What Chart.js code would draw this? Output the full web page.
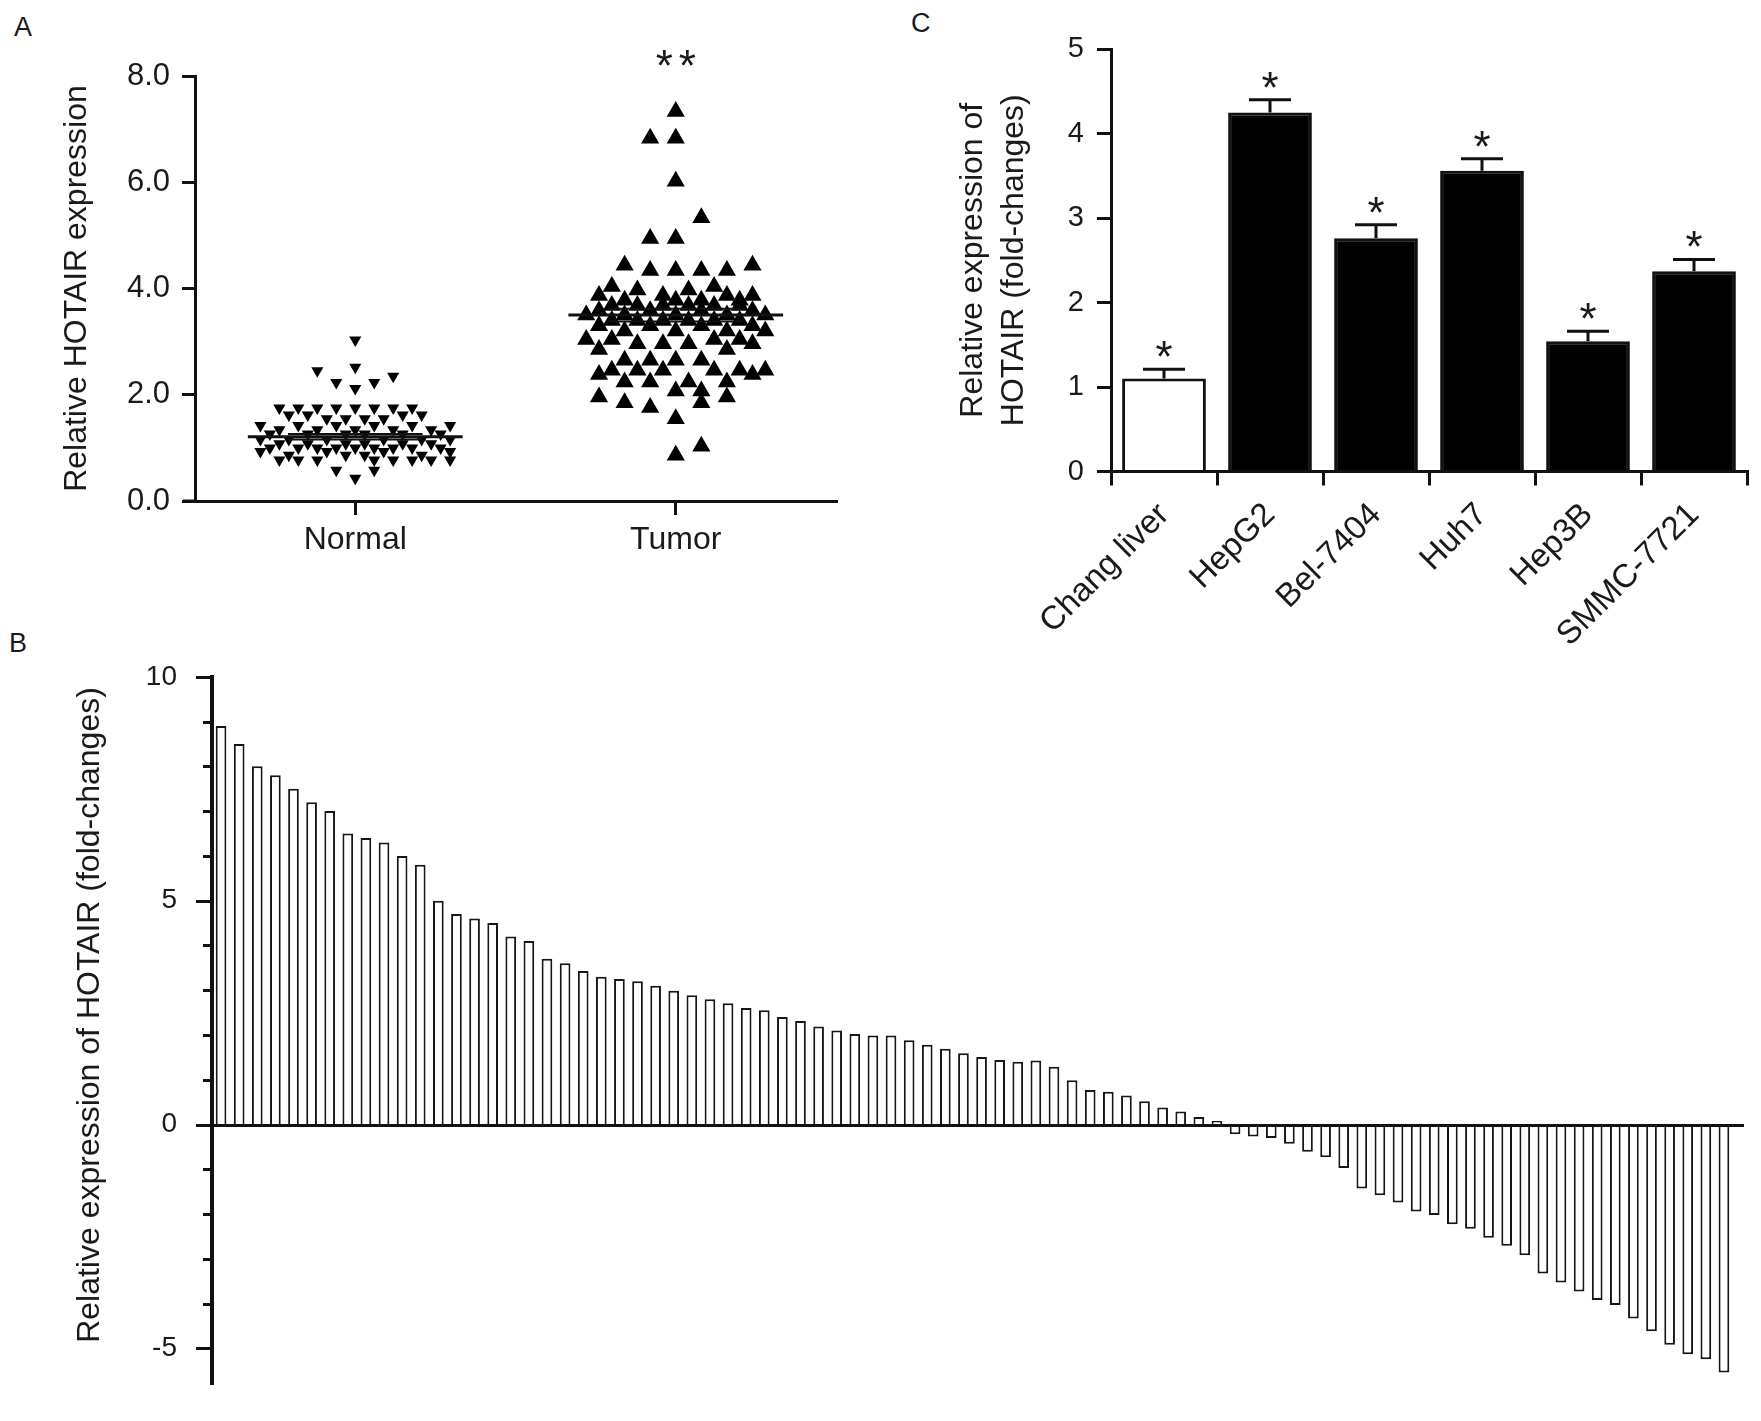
<!DOCTYPE html>
<html>
<head>
<meta charset="utf-8">
<script src="https://cdn.jsdelivr.net/npm/chart.js@4.4.1/dist/chart.umd.min.js"></script>
<style>
  body { margin: 0; background: #fff; }
  #wrap { position: relative; width: 1761px; height: 1421px; font-family: "Liberation Sans", Arial, sans-serif; color: #1a1a1a; }
  .panel { position: absolute; }
  .letter { position: absolute; font-size: 27px; line-height: 1; }
</style>
</head>
<body>
<div id="wrap">
  <div class="letter" style="left:14px;top:14px">A</div>
  <div class="letter" style="left:9px;top:630px">B</div>
  <div class="letter" style="left:911px;top:10px">C</div>
  <div class="panel" style="left:0;top:0"><canvas id="panelA" width="860" height="570"></canvas></div>
  <div class="panel" style="left:0;top:640px"><canvas id="panelB" width="1761" height="781"></canvas></div>
  <div class="panel" style="left:900px;top:0"><canvas id="panelC" width="861" height="660"></canvas></div>
</div>
<script>
// ---- panel A: scatter of normal vs tumor
const groupLabels = ['Normal', 'Tumor'];
const normalValues = [3.03, 2.52, 2.45, 2.35, 2.23, 2.23, 2.12,
  1.75, 1.75, 1.75, 1.75, 1.75, 1.75, 1.75, 1.75,
  1.62, 1.62, 1.62, 1.62, 1.55, 1.55, 1.55, 1.55,
  1.42, 1.42, 1.42, 1.42, 1.42, 1.42, 1.34, 1.34, 1.34, 1.34, 1.34,
  1.26, 1.26, 1.26, 1.26, 1.26, 1.26, 1.16, 1.16, 1.16, 1.16, 1.16, 1.16,
  1.08, 1.08, 1.08, 1.08, 1.08, 1.08, 1.00, 1.00, 1.00, 1.00, 1.00, 1.00, 1.00, 1.00, 1.00,
  0.93, 0.93, 0.93, 0.93, 0.86, 0.86, 0.86, 0.86,
  0.77, 0.77, 0.77, 0.77, 0.77, 0.77, 0.77, 0.77, 0.58, 0.58, 0.43];
const normalSlots = [0, 0, -4, 4, -2, 2, 0,
  -8, -6, -4, -2, 0, 2, 4, 6,
  -7, -5, 5, 7, -3, -1, 1, 3,
  -10, -6, -2, 2, 6, 10, -8, -4, 0, 4, 8,
  -9, -5, -1, 1, 5, 9, -10, -7, -3, 3, 7, 10,
  -8, -5, -1, 1, 5, 8, -9, -6, -4, -2, 0, 2, 4, 6, 9,
  -10, -3, 3, 10, -7, -1, 1, 7,
  -8, -6, -4, 2, 4, 6, 8, 10, -2, 2, 0];
const tumorValues = [7.33, 6.83, 6.83, 6.02, 5.33, 4.94, 4.94, 4.44, 4.44,
  4.34, 4.34, 4.34, 4.34, 4.04, 4.04, 3.97, 3.97, 3.87, 3.87, 3.87, 3.87,
  3.78, 3.78, 3.78, 3.78, 3.68, 3.68, 3.68, 3.68, 3.68, 3.68, 3.58, 3.58, 3.58, 3.58,
  3.50, 3.50, 3.50, 3.50, 3.50, 3.40, 3.40, 3.40, 3.40, 3.40, 3.40,
  3.30, 3.30, 3.30, 3.30, 3.20, 3.20, 3.20, 3.20, 3.04, 3.04, 3.04, 3.04,
  2.96, 2.96, 2.96, 2.96, 2.85, 2.85, 2.65, 2.65, 2.65, 2.65,
  2.46, 2.46, 2.46, 2.46, 2.46, 2.46, 2.38, 2.38, 2.24, 2.24, 2.24, 2.24,
  2.07, 2.07, 1.96, 1.96, 1.85, 1.85, 1.76, 1.55, 1.03, 0.86];
const tumorSlots = [0, -2, 0, 0, 2, -2, 0, -4, 6,
  -2, 0, 2, 4, -5, 3, -3, 1, -6, -1, 4, 6,
  -4, 0, 2, 5, -5, -3, -1, 1, 3, 5, -6, -2, 2, 6,
  -7, -4, 0, 4, 7, -5, -3, -1, 1, 3, 5,
  -6, -2, 2, 6, -4, 0, 4, 7, -7, -5, 3, 5,
  -3, -1, 1, 6, -6, 4, -4, -2, 0, 2,
  -5, -3, -1, 3, 5, 7, -6, 6, -4, -2, 1, 4,
  0, 2, -6, 4, -4, 2, -2, 0, 2, 0];
const groupMeans = [1.21, 3.50];
const groupSems = [0.05, 0.12];
const yTicksA = [0, 2, 4, 6, 8];

// ---- panel B: per patient fold change
const patientFold = [8.9, 8.5, 8.0, 7.8, 7.5, 7.2, 7.0, 6.5, 6.4, 6.3, 6.0, 5.8,
  5.0, 4.7, 4.6, 4.5, 4.2, 4.1, 3.7, 3.6, 3.43, 3.3, 3.25, 3.2,
  3.10, 2.99, 2.89, 2.80, 2.71, 2.60, 2.55, 2.40, 2.31, 2.19, 2.10, 2.02,
  1.99, 1.99, 1.88, 1.78, 1.69, 1.59, 1.51, 1.44, 1.40, 1.43, 1.29, 0.99,
  0.77, 0.73, 0.65, 0.52, 0.38, 0.29, 0.17, 0.08,
  -0.22, -0.27, -0.30, -0.43, -0.61, -0.73, -0.97, -1.43, -1.58, -1.74,
  -1.94, -2.02, -2.23, -2.33, -2.53, -2.71, -2.92, -3.33, -3.53, -3.73,
  -3.92, -4.03, -4.33, -4.62, -4.92, -5.13, -5.24, -5.54];
const yLabelsB = [-5, 0, 5, 10];

// ---- panel C: cell lines
const cellLines = ['Chang liver', 'HepG2', 'Bel-7404', 'Huh7', 'Hep3B', 'SMMC-7721'];
const cellMeans = [1.10, 4.25, 2.76, 3.56, 1.54, 2.37];
const cellErrors = [0.11, 0.15, 0.16, 0.14, 0.12, 0.14];

const FONT = '"Liberation Sans", Arial, sans-serif';
const INK = '#111';
Chart.defaults.font.family = FONT;
Chart.defaults.color = '#1a1a1a';
Chart.defaults.animation = false;
Chart.defaults.plugins.legend.display = false;
Chart.defaults.plugins.tooltip.enabled = false;

function drawStar(ctx, x, cy, size) {
  ctx.font = size + 'px ' + FONT;
  ctx.textAlign = 'center';
  ctx.textBaseline = 'alphabetic';
  ctx.fillText('*', x, cy + size * 0.57);
}

// short stub of the x axis poking left of the y axis (GraphPad style)
function axisStub(chart, len, width) {
  const { left, bottom } = chart.chartArea;
  const ctx = chart.ctx;
  ctx.save();
  ctx.strokeStyle = INK;
  ctx.lineWidth = width;
  ctx.beginPath();
  ctx.moveTo(left - len, bottom);
  ctx.lineTo(left, bottom);
  ctx.stroke();
  ctx.restore();
}

// ---------- A
const normalStep = 0.0296, tumorStep = 0.0399, meanHalf = 0.335, semHalf = 0.21;
function hline(x, half, y, w) {
  return { type: 'line', data: [{ x: x - half, y }, { x: x + half, y }], borderColor: INK,
    borderWidth: w, pointRadius: 0, showLine: true };
}
const lineSets = [];
groupMeans.forEach((m, i) => {
  lineSets.push(hline(i + 1, meanHalf, m, 3));
  lineSets.push(hline(i + 1, semHalf, m + groupSems[i], 2));
  lineSets.push(hline(i + 1, semHalf, m - groupSems[i], 2));
});

new Chart(document.getElementById('panelA'), {
  type: 'scatter',
  data: {
    datasets: [
      ...lineSets,
      {
        label: 'Normal',
        data: normalValues.map((v, i) => ({ x: 1 + normalSlots[i] * normalStep, y: v })),
        pointStyle: 'triangle', pointRotation: 180, pointRadius: 7,
        pointBackgroundColor: '#000', pointBorderWidth: 0,
      },
      {
        label: 'Tumor',
        data: tumorValues.map((v, i) => ({ x: 2 + tumorSlots[i] * tumorStep, y: v })),
        pointStyle: 'triangle', pointRadius: 10.5,
        pointBackgroundColor: '#000', pointBorderWidth: 0,
      },
    ],
  },
  options: {
    responsive: false,
    layout: { padding: { top: 76, right: 24, left: 0, bottom: 0 } },
    scales: {
      x: {
        type: 'linear', min: 0.5, max: 2.5,
        afterBuildTicks: s => { s.ticks = groupLabels.map((_, i) => ({ value: i + 1 })); },
        afterFit: s => { s.height = 69; },
        ticks: { callback: v => groupLabels[v - 1], font: { size: 32 }, padding: 6, color: '#1a1a1a' },
        grid: { drawOnChartArea: false, tickLength: 14, color: INK, lineWidth: 3 },
        border: { color: INK, width: 3 },
      },
      y: {
        min: 0, max: 8,
        afterBuildTicks: s => { s.ticks = yTicksA.map(v => ({ value: v })); },
        afterFit: s => { s.width = 195; },
        ticks: { callback: v => v.toFixed(1), font: { size: 31 }, padding: 12, color: '#1a1a1a' },
        grid: { drawOnChartArea: false, tickLength: 13, color: INK, lineWidth: 3 },
        border: { color: INK, width: 3 },
        title: { display: true, text: 'Relative HOTAIR expression', font: { size: 32 }, padding: { top: 58 }, color: '#1a1a1a' },
      },
    },
  },
  plugins: [{
    id: 'sigA',
    afterDraw(chart) {
      const { x, y } = chart.scales;
      const ctx = chart.ctx;
      axisStub(chart, 12, 3);
      ctx.save();
      ctx.fillStyle = '#1a1a1a';
      const cx = x.getPixelForValue(2), cy = y.getPixelForValue(8) - 20;
      drawStar(ctx, cx - 11.5, cy, 44);
      drawStar(ctx, cx + 11.5, cy, 44);
      ctx.restore();
    },
  }],
});

// ---------- B
new Chart(document.getElementById('panelB'), {
  type: 'bar',
  data: {
    labels: patientFold.map((_, i) => i + 1),
    datasets: [{
      data: patientFold,
      backgroundColor: '#fff',
      borderColor: '#161616',
      borderWidth: 2,
      categoryPercentage: 1,
      barPercentage: 0.59,
    }],
  },
  options: {
    responsive: false,
    layout: { padding: { top: 35, right: 28, left: 0, bottom: 15 } },
    scales: {
      x: { display: false },
      y: {
        min: -5.8, max: 10,
        afterFit: s => { s.width = 212; },
        ticks: {
          stepSize: 1, includeBounds: false, autoSkip: false, maxTicksLimit: 100,
          callback: v => (yLabelsB.includes(v) ? String(v) : ''),
          font: { size: 28 }, padding: 20, color: '#1a1a1a',
        },
        grid: {
          drawOnChartArea: false, drawTicks: true, tickLength: 15,
          tickColor: 'rgba(0,0,0,0)',
        },
        border: { color: INK, width: 4 },
      },
    },
  },
  plugins: [{
    id: 'ticksB',
    afterDraw(chart) {
      const y = chart.scales.y, { left, right } = chart.chartArea, ctx = chart.ctx;
      ctx.save();
      ctx.strokeStyle = INK;
      ctx.lineWidth = 3;
      y.ticks.forEach(t => {
        const py = Math.round(y.getPixelForValue(t.value)) + 0.5;
        const len = t.value % 5 === 0 ? 16 : 9;
        ctx.beginPath();
        ctx.moveTo(left - len, py);
        ctx.lineTo(left, py);
        ctx.stroke();
      });
      // zero line, running a little past the last bar
      const y0 = Math.round(y.getPixelForValue(0)) + 0.5;
      ctx.beginPath();
      ctx.moveTo(left, y0);
      ctx.lineTo(right + 11, y0);
      ctx.stroke();
      // axis title
      ctx.translate(90, 375);
      ctx.rotate(-Math.PI / 2);
      ctx.fillStyle = '#1a1a1a';
      ctx.font = '32px ' + FONT;
      ctx.textAlign = 'center';
      ctx.textBaseline = 'middle';
      ctx.fillText('Relative expression of HOTAIR (fold-changes)', 0, 0);
      ctx.restore();
    },
  }],
});

// ---------- C
new Chart(document.getElementById('panelC'), {
  type: 'bar',
  data: {
    labels: cellLines,
    datasets: [{
      data: cellMeans,
      backgroundColor: cellLines.map((_, i) => (i === 0 ? '#fff' : '#000')),
      borderColor: INK,
      borderWidth: 3,
      categoryPercentage: 1,
      barPercentage: 0.79,
    }],
  },
  options: {
    responsive: false,
    layout: { padding: { top: 49, right: 14, left: 0, bottom: 0 } },
    scales: {
      x: {
        afterFit: s => { s.height = 188.5; },
        ticks: { minRotation: 45, maxRotation: 45, autoSkip: false, font: { size: 33 }, padding: 10, color: '#1a1a1a' },
        grid: { drawOnChartArea: false, tickLength: 14, color: INK, lineWidth: 3 },
        border: { color: INK, width: 3 },
      },
      y: {
        min: 0, max: 5,
        afterFit: s => { s.width = 211; },
        ticks: { stepSize: 1, font: { size: 29 }, padding: 13, color: '#1a1a1a' },
        grid: { drawOnChartArea: false, tickLength: 14, color: INK, lineWidth: 3 },
        border: { color: INK, width: 3 },
        title: {
          display: true, text: ['Relative expression of', 'HOTAIR (fold-changes)'],
          font: { size: 32, lineHeight: 1.28 }, padding: { top: 53 }, color: '#1a1a1a',
        },
      },
    },
  },
  plugins: [{
    id: 'errC',
    afterDatasetsDraw(chart) {
      const { x, y } = chart.scales;
      const ctx = chart.ctx;
      axisStub(chart, 14, 3);
      ctx.save();
      ctx.strokeStyle = INK;
      ctx.fillStyle = '#1a1a1a';
      ctx.lineWidth = 3;
      cellMeans.forEach((m, i) => {
        const px = x.getPixelForValue(i);
        const top = y.getPixelForValue(m), cap = y.getPixelForValue(m + cellErrors[i]);
        ctx.beginPath();
        ctx.moveTo(px, top);
        ctx.lineTo(px, cap);
        ctx.moveTo(px - 21, cap);
        ctx.lineTo(px + 21, cap);
        ctx.stroke();
        drawStar(ctx, px, cap - 22, 44);
      });
      ctx.restore();
    },
  }],
});
</script>
</body>
</html>
